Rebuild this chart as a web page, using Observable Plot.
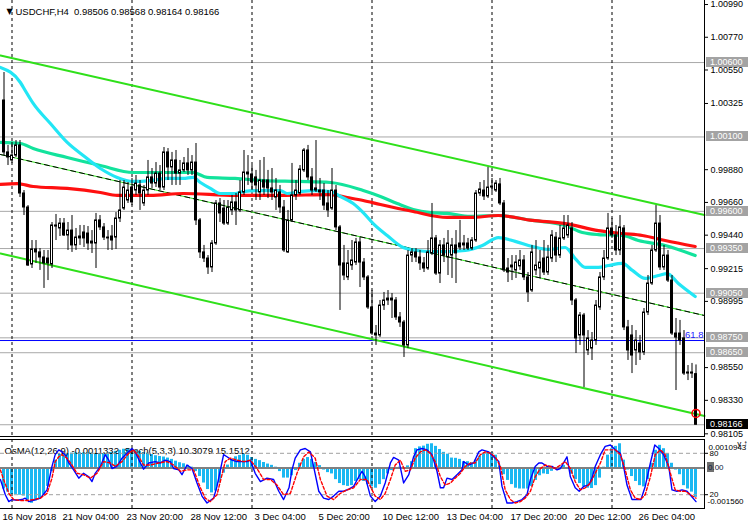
<!DOCTYPE html>
<html><head><meta charset="utf-8">
<script src="https://cdn.jsdelivr.net/npm/d3@7"></script>
<script src="https://cdn.jsdelivr.net/npm/@observablehq/plot@0.6"></script>
<style>
body{margin:0;background:#fff;}
#chart{position:relative;width:750px;height:528px;overflow:hidden;background:#fff;}
#chart svg{position:absolute;left:0;}
</style></head><body><div id="chart"></div>
<script>
// ---------- DATA ----------
const headerText = "USDCHF,H4  0.98506 0.98568 0.98164 0.98166";
const indHeader = "OsMA(12,26,9) -0.0011332  Stoch(5,3,3) 10.3079 15.1512";

const open = [1.00345,0.99996,0.99942,0.99975,1.00043,0.99720,0.99626,0.99243,0.99344,0.99324,
0.99290,0.99283,0.99243,0.99505,0.99485,0.99518,0.99438,0.99471,0.99371,0.99418,
0.99458,0.99451,0.99397,0.99384,0.99539,0.99492,0.99424,0.99431,0.99424,0.99552,
0.99619,0.99673,0.99760,0.99740,0.99774,0.99653,0.99740,0.99828,0.99787,0.99854,
0.99760,0.99996,0.99895,0.99942,0.99854,0.99875,0.99922,0.99875,0.99928,0.99539,
0.99324,0.99283,0.99223,0.99384,0.99653,0.99619,0.99518,0.99606,0.99660,0.99606,
0.99727,0.99861,0.99848,0.99828,0.99727,0.99807,0.99807,0.99754,0.99693,0.99727,
0.99626,0.99324,0.99539,0.99707,0.99720,0.99875,1.00009,0.99828,0.99754,0.99740,
0.99740,0.99653,0.99619,0.99740,0.99492,0.99250,0.99156,0.99236,0.99256,0.99391,
0.99256,0.99156,0.98954,0.98779,0.98766,0.98967,0.99001,0.99014,0.99001,0.98887,
0.98853,0.98699,0.99303,0.99324,0.99290,0.99250,0.99216,0.99317,0.99418,0.99182,
0.99371,0.99290,0.99303,0.99371,0.99384,0.99371,0.99384,0.99350,0.99404,0.99720,
0.99740,0.99700,0.99760,0.99740,0.99781,0.99653,0.99216,0.99236,0.99203,0.99230,
0.99270,0.99156,0.99068,0.99203,0.99216,0.99283,0.99189,0.99283,0.99424,0.99303,
0.99418,0.99438,0.99485,0.99001,0.98766,0.98900,0.98665,0.98678,0.98732,0.98954,
0.99156,0.99283,0.99485,0.99438,0.99337,0.99485,0.98820,0.98766,0.98665,0.98712,
0.98652,0.98920,0.99115,0.99337,0.99518,0.99223,0.99303,0.99135,0.98779,0.98779,
0.98746,0.98510,0.98517,0.98506];
const high = [1.00533,1.00043,1.00063,1.00076,1.00076,0.99740,0.99639,0.99404,0.99404,0.99350,
0.99337,0.99337,0.99525,0.99579,0.99552,0.99552,0.99525,0.99572,0.99485,0.99505,
0.99505,0.99498,0.99471,0.99586,0.99572,0.99518,0.99471,0.99505,0.99592,0.99807,
0.99807,0.99794,0.99821,0.99841,0.99807,0.99774,0.99942,0.99888,0.99928,0.99908,
1.00029,1.00022,0.99996,1.00009,0.99942,0.99962,1.00022,0.99975,1.00056,0.99552,
0.99371,0.99303,0.99404,0.99673,0.99686,0.99673,0.99673,0.99707,0.99720,0.99807,
1.00009,0.99975,0.99908,0.99875,0.99942,0.99962,0.99875,0.99888,0.99821,0.99774,
0.99673,0.99606,0.99922,0.99807,0.99908,1.00022,1.00043,0.99888,1.00076,0.99821,
0.99787,0.99740,0.99888,0.99774,0.99505,0.99371,0.99337,0.99404,0.99418,0.99424,
0.99283,0.99169,0.99068,0.98833,0.99001,0.99055,0.99068,0.99048,0.99021,0.98920,
0.98867,0.99337,0.99350,0.99350,0.99337,0.99290,0.99404,0.99653,0.99438,0.99404,
0.99418,0.99471,0.99418,0.99471,0.99539,0.99438,0.99418,0.99424,0.99740,0.99794,
0.99807,0.99895,0.99821,0.99807,0.99821,0.99673,0.99283,0.99303,0.99303,0.99337,
0.99303,0.99189,0.99371,0.99404,0.99337,0.99404,0.99371,0.99471,0.99458,0.99505,
0.99572,0.99572,0.99525,0.99014,0.98920,0.98914,0.98799,0.98786,0.99001,0.99189,
0.99337,0.99586,0.99552,0.99505,0.99572,0.99505,0.98867,0.98833,0.98799,0.98766,
0.98947,0.99169,0.99371,0.99639,0.99572,0.99371,0.99337,0.99169,0.98880,0.98867,
0.98799,0.98564,0.98578,0.98568];
const low = [0.99975,0.99908,0.99922,0.99962,0.99693,0.99572,0.99230,0.99216,0.99250,0.99203,
0.99082,0.99135,0.99216,0.99404,0.99431,0.99431,0.99337,0.99324,0.99337,0.99371,
0.99357,0.99337,0.99317,0.99216,0.99471,0.99404,0.99337,0.99337,0.99344,0.99525,
0.99606,0.99653,0.99639,0.99707,0.99606,0.99633,0.99707,0.99754,0.99760,0.99740,
0.99740,0.99807,0.99774,0.99774,0.99774,0.99861,0.99841,0.99841,0.99505,0.99283,
0.99256,0.99176,0.99189,0.99371,0.99525,0.99505,0.99505,0.99572,0.99505,0.99592,
0.99707,0.99774,0.99740,0.99673,0.99673,0.99707,0.99686,0.99673,0.99606,0.99586,
0.99324,0.99317,0.99525,0.99673,0.99707,0.99861,0.99807,0.99707,0.99727,0.99673,
0.99606,0.99559,0.99606,0.99471,0.98934,0.99135,0.99135,0.99203,0.99236,0.99088,
0.99135,0.98941,0.98766,0.98699,0.98752,0.98934,0.98967,0.98880,0.98867,0.98820,
0.98618,0.98678,0.99256,0.99256,0.99203,0.99189,0.99203,0.99303,0.99169,0.99115,
0.99256,0.99169,0.99149,0.99115,0.99337,0.99337,0.99337,0.99337,0.99391,0.99700,
0.99673,0.99686,0.99727,0.99727,0.99639,0.99189,0.99122,0.99135,0.99149,0.99203,
0.99135,0.98988,0.99055,0.99169,0.99149,0.99169,0.99169,0.99256,0.99256,0.99283,
0.99404,0.99418,0.98967,0.98645,0.98699,0.98416,0.98631,0.98598,0.98699,0.98934,
0.99135,0.99270,0.99418,0.99303,0.99303,0.98799,0.98598,0.98510,0.98564,0.98598,
0.98631,0.98900,0.99102,0.99324,0.99203,0.99203,0.99122,0.98766,0.98396,0.98699,
0.98497,0.98463,0.98477,0.98164];
const close = [0.99996,0.99962,0.99975,1.00043,0.99720,0.99626,0.99236,0.99344,0.99324,0.99290,
0.99250,0.99250,0.99505,0.99498,0.99518,0.99438,0.99471,0.99371,0.99424,0.99431,
0.99418,0.99384,0.99384,0.99539,0.99492,0.99424,0.99418,0.99404,0.99552,0.99606,
0.99760,0.99740,0.99660,0.99787,0.99720,0.99740,0.99828,0.99787,0.99854,0.99760,
0.99996,0.99895,0.99942,0.99854,0.99875,0.99922,0.99875,0.99928,0.99539,0.99324,
0.99283,0.99223,0.99384,0.99653,0.99586,0.99518,0.99626,0.99660,0.99606,0.99727,
0.99861,0.99848,0.99794,0.99774,0.99807,0.99760,0.99754,0.99727,0.99740,0.99626,
0.99337,0.99539,0.99707,0.99740,0.99881,1.00009,0.99828,0.99740,0.99740,0.99727,
0.99639,0.99606,0.99740,0.99492,0.99236,0.99169,0.99250,0.99270,0.99391,0.99256,
0.99156,0.98954,0.98779,0.98766,0.98967,0.99001,0.99014,0.99001,0.98887,0.98853,
0.98699,0.99303,0.99324,0.99290,0.99250,0.99216,0.99324,0.99418,0.99182,0.99371,
0.99303,0.99384,0.99371,0.99317,0.99357,0.99384,0.99350,0.99404,0.99720,0.99747,
0.99700,0.99760,0.99767,0.99787,0.99653,0.99203,0.99189,0.99223,0.99256,0.99270,
0.99156,0.99055,0.99324,0.99236,0.99256,0.99189,0.99290,0.99438,0.99303,0.99418,
0.99485,0.99505,0.99001,0.98746,0.98900,0.98766,0.98746,0.98732,0.98967,0.99156,
0.99283,0.99485,0.99438,0.99337,0.99492,0.98820,0.98665,0.98631,0.98732,0.98652,
0.98920,0.99115,0.99337,0.99518,0.99223,0.99303,0.99135,0.98779,0.98752,0.98732,
0.98510,0.98517,0.98510,0.98166];

// moving averages (sampled: bar index, price)
const cyanIdx = [-0.9,4.1,5.3,7.3,11.6,15.8,19.8,24.1,28.3,32.3,36.6,40.8,44.8,47.3,49.1,51.6,54.1,57.8,59.8,64.8,69.1,70.8,74.1,77.3,81.6,84.1,87.3,89.8,92.3,95.8,99.8,103.3,106.6,110.8,115.3,119.6,123.6,127.8,132.1,136.1,140.3,142.8,145.3,148.6,151.1,154.6,157.1,160.3,163.6,165.8,168.6,172.8];
const cyanMA = [1.00567,1.00466,1.00412,1.00325,1.00190,1.00063,0.99975,0.99888,0.99828,0.99801,0.99807,0.99821,0.99821,0.99828,0.99794,0.99754,0.99720,0.99720,0.99733,0.99740,0.99740,0.99720,0.99733,0.99740,0.99733,0.99700,0.99653,0.99592,0.99518,0.99438,0.99357,0.99337,0.99330,0.99330,0.99337,0.99371,0.99424,0.99398,0.99364,0.99344,0.99357,0.99283,0.99223,0.99223,0.99236,0.99250,0.99203,0.99149,0.99169,0.99182,0.99115,0.99028];
const tealIdx = [-0.9,4.1,7.3,15.8,24.1,32.3,40.8,47.3,50.8,57.8,64.8,73.3,81.6,89.8,94.1,98.3,102.3,106.6,110.8,116.6,123.6,132.1,140.3,144.6,148.6,154.6,158.6,165.3,172.8];
const tealMA = [1.00063,1.00056,1.00022,0.99962,0.99908,0.99861,0.99861,0.99861,0.99828,0.99821,0.99807,0.99801,0.99794,0.99740,0.99700,0.99653,0.99613,0.99592,0.99586,0.99566,0.99572,0.99539,0.99505,0.99458,0.99444,0.99438,0.99404,0.99371,0.99303];
const redIdx = [-0.9,3.3,7.3,15.8,24.1,28.3,36.6,44.8,57.8,69.1,81.6,85.8,89.8,94.1,102.3,110.8,116.6,123.6,132.1,140.3,148.6,154.6,159.6,165.3,172.8];
const redMA = [0.99781,0.99787,0.99767,0.99754,0.99727,0.99707,0.99707,0.99720,0.99707,0.99707,0.99713,0.99693,0.99673,0.99646,0.99599,0.99559,0.99559,0.99572,0.99539,0.99518,0.99471,0.99451,0.99438,0.99404,0.99364];

// channel (bar index, price at both ends)
const channelIdx = [-0.875, 175.125];
const channelUpper = [1.00647, 0.99575];
const channelLower = [0.99317, 0.98225];
const channelMid = [0.99982, 0.98900];

const levels = [1.00600, 1.00100, 0.99600, 0.99350, 0.99050, 0.98750, 0.98650];
const bidPrice = 0.98166;
const fibPrice = 0.98732;
const fibLabel = "61.8";
const alertPrice = 0.98242;
const axisTicks = [1.00990,1.00770,1.00550,1.00325,0.99880,0.99660,0.99440,0.99215,0.98995,0.98550,0.98330,0.98105];
const gridIdx = [2, 32, 62, 92, 122, 152];
const labelIdx = [0,15,31,47,63,79,95,111,127,143,159];
const labelText = ["16 Nov 2018","21 Nov 04:00","23 Nov 20:00","28 Nov 12:00","3 Dec 04:00","5 Dec 20:00","10 Dec 12:00","13 Dec 04:00","17 Dec 20:00","20 Dec 12:00","26 Dec 04:00"];

const osma = [
-0.00081,-0.00093,-0.00102,-0.00102,-0.00105,-0.00108,-0.00123,-0.00136,-0.00127,-0.00118,
-0.00102,-0.00071,-0.00014,0.00030,0.00052,0.00055,0.00055,0.00057,0.00058,0.00058,
0.00058,0.00058,0.00057,0.00054,0.00053,0.00054,0.00057,0.00060,0.00064,0.00068,
0.00072,0.00074,0.00072,0.00067,0.00063,0.00059,0.00057,0.00052,0.00047,0.00044,
0.00042,0.00038,0.00033,0.00026,0.00020,0.00016,0.00010,0.00003,-0.00014,-0.00033,
-0.00058,-0.00083,-0.00096,-0.00089,-0.00058,-0.00020,0.00011,0.00033,0.00043,0.00048,
0.00052,0.00049,0.00040,0.00033,0.00028,0.00021,0.00015,0.00010,0.00003,-0.00014,
-0.00039,-0.00039,-0.00030,-0.00010,0.00018,0.00033,0.00040,0.00033,0.00021,0.00009,
-0.00008,-0.00018,-0.00023,-0.00045,-0.00060,-0.00068,-0.00071,-0.00068,-0.00052,-0.00045,
-0.00052,-0.00064,-0.00073,-0.00078,-0.00064,-0.00045,-0.00023,-0.00010,-0.00005,0.00003,
-0.00005,0.00008,0.00024,0.00074,0.00081,0.00084,0.00091,0.00093,0.00083,0.00071,
0.00060,0.00053,0.00038,0.00037,0.00033,0.00024,0.00024,0.00020,0.00030,0.00045,
0.00055,0.00060,0.00059,0.00049,0.00008,-0.00026,-0.00048,-0.00064,-0.00078,-0.00081,
-0.00081,-0.00081,-0.00071,-0.00048,-0.00030,-0.00023,-0.00025,-0.00013,-0.00005,0.00003,
0.00010,-0.00005,-0.00024,-0.00045,-0.00060,-0.00073,-0.00078,-0.00079,-0.00068,-0.00039,
0.00003,0.00049,0.00074,0.00083,0.00093,0.00030,-0.00008,-0.00033,-0.00052,-0.00068,
-0.00073,-0.00045,0.00018,0.00068,0.00087,0.00074,0.00055,0.00018,-0.00008,-0.00026,
-0.00068,-0.00081,-0.00093,-0.00113];
const osmaMax = 0.0010943, osmaMin = -0.001560;

const stochMainIdx = [-0.9,0.33,1.2,2,3.25,4.5,5.3,6.2,7.4,9.1,
10.75,12,12.8,13.7,14.5,15.3,16.2,17.4,18.7,19.9,
21.2,22,22.8,24.1,25.3,26.2,27,28.25,29.5,30.75,
32,32.8,34.1,34.9,36.2,37.8,39.1,40.3,41.6,42.4,
43.7,44.5,45.75,47,48.25,49.5,50.75,52.4,53.25,54.1,
54.9,55.75,57,58.25,59.5,60.75,61.6,62.8,64.1,65.75,
67.4,68.7,69.9,71.25,72,72.8,74.1,75.3,76.6,77.4,
78.7,79.9,81.2,82.4,83.7,84.9,86.2,87.4,88.7,89.5,
90.3,91.6,92.8,94.1,95.3,96.6,97.4,98.7,99.9,101.2,
102.4,103.25,104.5,105.75,107,108.25,109.1,109.9,110.75,112,
113.25,114.5,114.9,116.2,117.4,118.7,119.5,121.2,122.4,123.7,
124.5,125.75,127,128.25,129.5,130.75,131.6,132.8,133.7,134.5,
135.75,137,138.25,139.1,139.9,140.75,141.6,142.8,143.8,144.9,
146.2,147,147.8,149.1,150.3,151.6,152.8,154.1,154.9,155.75,
157,158.25,159.25,160.3,161.6,162.7,163.7,164.9,166.2,167,
168.25,169.5,170.75,171.8,173];
const stochMain = [42,20,10,13,12,13,15,10,12,15,
27,61,78,85,82,78,66,56,44,51,
46,39,51,61,78,70,58,61,73,80,
87,82,66,57,66,68,66,70,68,58,
56,49,63,58,37,18,8,15,32,56,
78,75,70,68,68,68,70,51,39,44,
42,25,13,30,56,73,85,87,82,61,
25,15,13,18,25,25,28,32,46,54,
46,18,10,18,37,66,74,70,37,49,
75,85,87,85,78,54,30,30,44,42,
49,56,68,63,66,82,85,82,75,68,
32,8,8,10,13,20,42,61,66,66,
61,61,56,58,66,75,46,30,25,32,
34,44,61,78,90,92,85,80,61,34,
13,13,13,32,66,92,87,78,61,27,
25,27,25,18,10];
const stochSigIdx = [-0.9,-0.1,1.2,2.4,4.1,5.75,7.4,9.1,10.75,12,
12.8,13.7,14.5,15.75,17,18.25,19.9,21.6,23.25,24.9,
26.6,27.8,29.5,31.2,32.4,33.7,34.9,36.6,38.7,40.75,
42.4,44.1,45.75,47.4,49.1,50.3,51.6,53.25,54.5,55.3,
56.6,58.25,60,61.6,63.25,64.9,66.6,68.25,69.9,71.6,
73.25,74.9,76.2,77.8,79.1,80.75,82.4,84.1,85.75,87.4,
89.1,90.75,92,92.8,94.1,95.3,96.6,97.8,99.1,100.3,
101.6,102.8,104.1,105.3,106.6,107.8,109.1,110.3,111.6,112.8,
114.1,115.3,116.6,117.8,119.1,120.3,121.6,122.8,124.1,125.3,
126.6,127.8,129.1,130.3,131.6,132.8,134.1,135.3,136.6,137.8,
139.1,140.3,141.6,142.8,144.1,145.3,146.6,147.8,149.1,150.3,
151.6,152.8,154.1,155.3,156.6,157.8,159.1,160.3,161.6,162.8,
164.1,165.3,166.6,167.8,169.1,170.3,171.6,173];
const stochSig = [56,42,22,13,11.5,11.5,13,15,22,44,
68,75,78,73,63,51,49,44,51,68,
66,61,68,80,85,75,63,63,66,68,
63,54,56,56,30,15,10,20,49,68,
73,70,68,70,58,42,42,34,20,22,
51,75,82,73,42,18,13,22,27,30,
42,42,27,18,13,22,42,63,70,54,
56,73,82,85,80,68,46,34,37,44,
51,61,66,66,78,82,80,75,61,27,
13,8,10,15,25,46,58,63,61,58,
63,68,58,39,27,30,37,51,66,85,
85,85,78,56,27,15,13,20,46,78,
85,78,51,27,25,25,20,15];
const stochLevels = [20, 80];

// ---------- STYLE ----------
const FONT = '"Liberation Sans",Arial,sans-serif';
const FS = 9.5, FS_AX = 9, FS_IND = 8;
const GREEN = "#2fe01a", CYAN = "#22e6f5", TEAL = "#12e39c", RED = "#ff1010", OSMA = "#1ab8f2";
const xDomain = [-0.875, 175.125];
const W = 750, MR = 46;
const baseStyle = {background: "transparent", fontFamily: FONT, fontSize: FS + "px", color: "black", overflow: "visible"};

const bars = open.map((o, i) => ({i, open: o, high: high[i], low: low[i], close: close[i]}));
const pts = (idx, vals) => idx.map((x, k) => ({x, y: vals[k]}));

// ---------- MAIN PANEL ----------
const mainPlot = Plot.plot({
  width: W, height: 437, marginLeft: 0, marginRight: MR, marginTop: 0, marginBottom: 1,
  x: {domain: xDomain, axis: null},
  y: {domain: [0.98087, 1.01017], axis: null},
  style: baseStyle,
  marks: [
    Plot.ruleY(levels, {stroke: "#a8a8a8"}),
    Plot.ruleY([bidPrice], {stroke: "#a8a8a8"}),
    Plot.ruleY([fibPrice], {stroke: "#0000ff"}),
    Plot.ruleX(gridIdx, {stroke: "black", strokeDasharray: "3,3"}),
    Plot.line(pts(channelIdx, channelUpper), {x: "x", y: "y", stroke: GREEN, strokeWidth: 2}),
    Plot.line(pts(channelIdx, channelLower), {x: "x", y: "y", stroke: GREEN, strokeWidth: 2}),
    Plot.line(pts(channelIdx, channelMid), {x: "x", y: "y", stroke: GREEN, strokeWidth: 1}),
    Plot.line(pts(channelIdx, channelMid), {x: "x", y: "y", stroke: "black", strokeWidth: 1, strokeDasharray: "5,4"}),
    Plot.line(pts(tealIdx, tealMA), {x: "x", y: "y", stroke: TEAL, strokeWidth: 3.2, curve: "monotone-x", clip: true}),
    Plot.line(pts(redIdx, redMA), {x: "x", y: "y", stroke: RED, strokeWidth: 3.2, curve: "monotone-x", clip: true}),
    Plot.line(pts(cyanIdx, cyanMA), {x: "x", y: "y", stroke: CYAN, strokeWidth: 3.2, curve: "monotone-x", clip: true}),
    Plot.ruleX(bars, {x: "i", y1: "low", y2: "high", stroke: "black"}),
    Plot.rect(bars, {x1: d => d.i - 0.25, x2: d => d.i + 0.25, y1: "open", y2: "close",
      fill: d => d.close > d.open ? "white" : "black", stroke: "black"}),
    Plot.dot([{i: bars.length - 1, p: alertPrice}], {x: "i", y: "p", r: 4, stroke: "red", fill: "none"}),
    Plot.text([fibPrice], {y: d => d, frameAnchor: "right", text: () => fibLabel, textAnchor: "end",
      dx: -1, dy: -6, fill: "#2020ff", fontSize: 9.5}),
    Plot.axisY(axisTicks, {anchor: "right", tickSize: 3, tickPadding: 3, tickFormat: d => d.toFixed(5), fontSize: FS_AX}),
    Plot.text(["\u25BC"], {frameAnchor: "top-left", dx: 6, dy: 8, fontSize: 8, fontFamily: "DejaVu Sans"}),
    Plot.text([headerText], {frameAnchor: "top-left", dx: 15, dy: 8, textAnchor: "start", fontSize: FS})
  ]
});

// ---------- OSMA PANEL ----------
const indPlot = Plot.plot({
  width: W, height: 91, marginLeft: 0, marginRight: MR, marginTop: 2, marginBottom: 20,
  x: {domain: xDomain, axis: null},
  y: {domain: [osmaMin, osmaMax], axis: null},
  style: baseStyle,
  marks: [
    Plot.rect(osma, {x1: (d, i) => i - 0.375, x2: (d, i) => i + 0.375, y1: () => 0, y2: d => d, fill: OSMA}),
    Plot.ruleX(gridIdx, {stroke: "black", strokeDasharray: "3,3"}),
    Plot.ruleY([0], {stroke: "#808080", strokeWidth: 2}),
    Plot.axisX(labelIdx, {anchor: "bottom", tickSize: 0, tickPadding: 5, textAnchor: "start", dx: -1.5,
      tickFormat: d => labelText[labelIdx.indexOf(d)], fontSize: FS}),
    Plot.text([indHeader], {frameAnchor: "top-left", dx: 4, dy: 8, textAnchor: "start", fontSize: FS}),
    Plot.text([osmaMax.toFixed(7)], {frameAnchor: "top-right", dx: 4, dy: 4.5, textAnchor: "start", fontSize: FS_IND}),
    Plot.text([osmaMin.toFixed(6)], {frameAnchor: "bottom-right", dx: 3, dy: -4.5, textAnchor: "start", fontSize: FS_IND})
  ]
});

// ---------- STOCHASTIC OVERLAY ----------
const stoPlot = Plot.plot({
  width: W, height: 91, marginLeft: 0, marginRight: MR, marginTop: 2, marginBottom: 20,
  x: {domain: xDomain, axis: null},
  y: {domain: [0, 100], axis: null},
  style: baseStyle,
  marks: [
    Plot.ruleY(stochLevels, {stroke: "#a0a0a0", strokeDasharray: "4,3"}),
    Plot.line(pts(stochMainIdx, stochMain), {x: "x", y: "y", stroke: "#0000ff", strokeWidth: 1.4, clip: true}),
    Plot.line(pts(stochSigIdx, stochSig), {x: "x", y: "y", stroke: "#ff0000", strokeWidth: 1.4, strokeDasharray: "3,2", clip: true}),
    Plot.axisY(stochLevels, {anchor: "right", tickSize: 3, tickPadding: 2, tickFormat: d => String(d), fontSize: FS_IND})
  ]
});

// ---------- assemble ----------
const root = document.getElementById("chart");
mainPlot.style.top = "0px"; indPlot.style.top = "437px"; stoPlot.style.top = "437px";
root.appendChild(mainPlot); root.appendChild(indPlot); root.appendChild(stoPlot);

// frame lines and price boxes (positioned through Plot's own scales)
const xRight = mainPlot.scale("x").apply(xDomain[1]);
const yMain = mainPlot.scale("y");
const gm = d3.select(mainPlot).append("g").attr("text-anchor", "start");
gm.append("line").attr("x1", xRight + 0.5).attr("x2", xRight + 0.5).attr("y1", 0).attr("y2", 437).attr("stroke", "black");
gm.append("line").attr("x1", 0).attr("x2", xRight + 1).attr("y1", 436.5).attr("y2", 436.5).attr("stroke", "black");
function priceBox(g, v, bg, fg, txt) {
  const yy = Math.round(yMain.apply(v));
  g.append("rect").attr("x", xRight + 2).attr("y", yy - 5).attr("width", 42).attr("height", 10).attr("fill", bg);
  g.append("text").attr("x", xRight + 6).attr("y", yy).attr("dy", "0.35em").attr("fill", fg)
    .attr("text-anchor", "start").attr("font-family", FONT).attr("font-size", FS_AX).text(txt);
}
levels.forEach(v => priceBox(gm, v, "#a3a3a3", "white", v.toFixed(5)));
priceBox(gm, bidPrice, "black", "white", bidPrice.toFixed(5));

const gi = d3.select(indPlot).append("g").attr("text-anchor", "start");
const yInd = indPlot.scale("y");
const yTopI = yInd.apply(osmaMax), yBotI = yInd.apply(osmaMin);
gi.append("line").attr("x1", 0).attr("x2", xRight + 1).attr("y1", yTopI + 0.5).attr("y2", yTopI + 0.5).attr("stroke", "black");
gi.append("line").attr("x1", 0).attr("x2", xRight + 1).attr("y1", yBotI + 0.5).attr("y2", yBotI + 0.5).attr("stroke", "black");
gi.append("line").attr("x1", xRight + 0.5).attr("x2", xRight + 0.5).attr("y1", yTopI).attr("y2", yBotI + 1).attr("stroke", "black");
const yZero = Math.round(yInd.apply(0));
gi.append("rect").attr("x", xRight + 3).attr("y", yZero - 5).attr("width", 7).attr("height", 10).attr("fill", "#707070");
gi.append("text").attr("x", xRight + 4).attr("y", yZero).attr("dy", "0.35em").attr("font-family", FONT)
  .attr("text-anchor", "start").attr("font-size", FS_IND).attr("fill", "#0a1a40").text("0.00");
</script></body></html>
